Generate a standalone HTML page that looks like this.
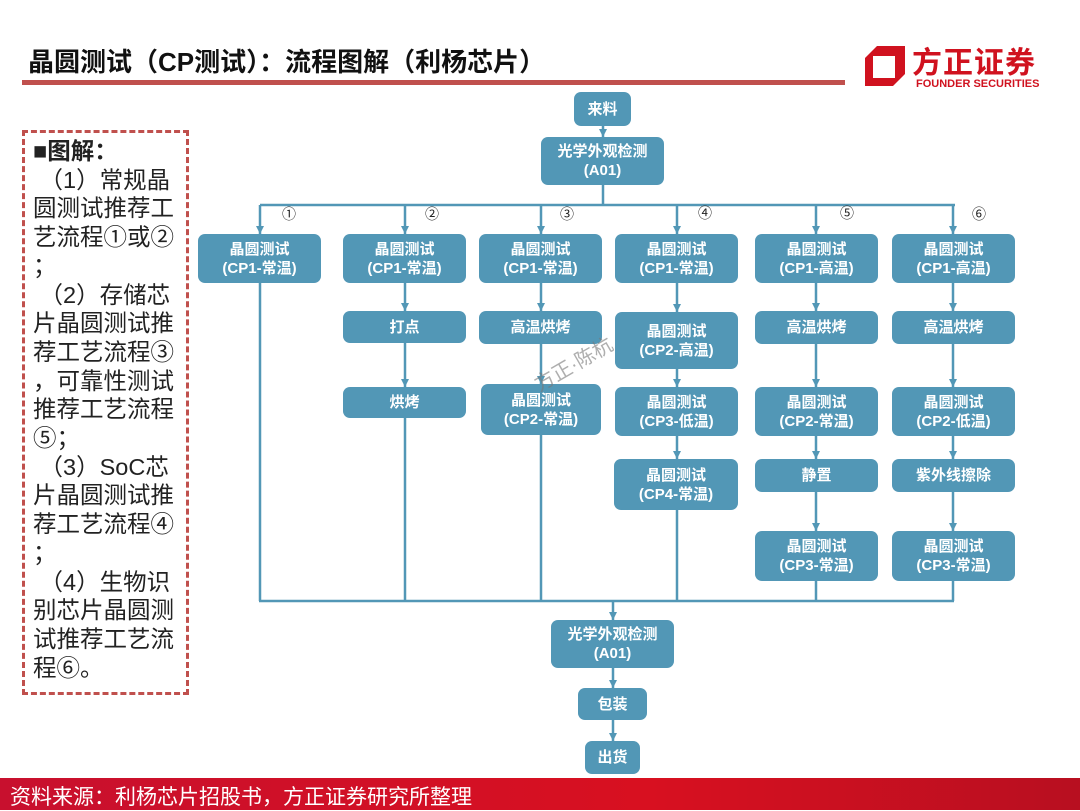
<!DOCTYPE html>
<html><head><meta charset="utf-8"><style>
body{margin:0;width:1080px;height:810px;position:relative;background:#fff;overflow:hidden;font-family:"Liberation Sans","Noto Sans CJK SC",sans-serif}
.b{position:absolute;background:#5297b6;color:#fff;border-radius:7px;display:flex;align-items:center;justify-content:center;text-align:center;font-weight:bold;font-size:15px;line-height:19px}
.n{position:absolute;font-size:14px;color:#222}
</style></head><body>
<div style="position:absolute;left:28px;top:42px;font-size:26px;font-weight:bold;color:#111;white-space:nowrap">晶圆测试（CP测试）：流程图解（利杨芯片）</div>
<div style="position:absolute;left:22px;top:80px;width:823px;height:5px;background:#c0504d"></div>
<svg style="position:absolute;left:863px;top:44px" width="44" height="44"><path d="M14 2 H42 V30 L30 42 H2 V14 Z M10 12 V34 H32 V12 Z" fill="#d0121f" fill-rule="evenodd"/></svg>
<div style="position:absolute;left:912px;top:38px;font-size:30px;font-weight:bold;color:#d0121f;letter-spacing:1px;white-space:nowrap">方正证券</div>
<div style="position:absolute;left:916px;top:78px;font-size:11px;font-weight:bold;color:#d0121f;white-space:nowrap">FOUNDER SECURITIES</div>

<div style="position:absolute;left:22px;top:130px;width:161px;height:559px;border:3px dashed #c0504d"></div>
<div style="position:absolute;left:33px;top:137px;width:160px;font-size:23.5px;line-height:28.7px;color:#222;white-space:nowrap"><b>■图解：</b><br>&nbsp;（1）常规晶<br>圆测试推荐工<br>艺流程①或②<br>；<br>&nbsp;（2）存储芯<br>片晶圆测试推<br>荐工艺流程③<br>，可靠性测试<br>推荐工艺流程<br>⑤；<br>&nbsp;（3）SoC芯<br>片晶圆测试推<br>荐工艺流程④<br>；<br>&nbsp;（4）生物识<br>别芯片晶圆测<br>试推荐工艺流<br>程⑥。</div>

<svg style="position:absolute;left:0;top:0" width="1080" height="810">
<defs><marker id="a" markerWidth="8" markerHeight="8" refX="8" refY="4" orient="auto" markerUnits="userSpaceOnUse"><path d="M0 0 L8 4 L0 8 Z" fill="#5297b6"/></marker></defs>
<g stroke="#5297b6" stroke-width="2.5" fill="none">
<line x1="603" y1="126" x2="603" y2="137" marker-end="url(#a)"/>
<line x1="603" y1="185" x2="603" y2="205"/>
<line x1="260" y1="205" x2="955" y2="205"/>
<line x1="260" y1="205" x2="260" y2="234" marker-end="url(#a)"/>
<line x1="405" y1="205" x2="405" y2="234" marker-end="url(#a)"/>
<line x1="541" y1="205" x2="541" y2="234" marker-end="url(#a)"/>
<line x1="677" y1="205" x2="677" y2="234" marker-end="url(#a)"/>
<line x1="816" y1="205" x2="816" y2="234" marker-end="url(#a)"/>
<line x1="953" y1="205" x2="953" y2="234" marker-end="url(#a)"/>
<line x1="260" y1="283" x2="260" y2="601"/>
<line x1="405" y1="283" x2="405" y2="311" marker-end="url(#a)"/>
<line x1="405" y1="343" x2="405" y2="387" marker-end="url(#a)"/>
<line x1="405" y1="418" x2="405" y2="601"/>
<line x1="541" y1="283" x2="541" y2="311" marker-end="url(#a)"/>
<line x1="541" y1="344" x2="541" y2="384" marker-end="url(#a)"/>
<line x1="541" y1="435" x2="541" y2="601"/>
<line x1="677" y1="283" x2="677" y2="312" marker-end="url(#a)"/>
<line x1="677" y1="369" x2="677" y2="387" marker-end="url(#a)"/>
<line x1="677" y1="436" x2="677" y2="459" marker-end="url(#a)"/>
<line x1="677" y1="510" x2="677" y2="601"/>
<line x1="816" y1="283" x2="816" y2="311" marker-end="url(#a)"/>
<line x1="816" y1="344" x2="816" y2="387" marker-end="url(#a)"/>
<line x1="816" y1="436" x2="816" y2="459" marker-end="url(#a)"/>
<line x1="816" y1="492" x2="816" y2="531" marker-end="url(#a)"/>
<line x1="816" y1="581" x2="816" y2="601"/>
<line x1="953" y1="283" x2="953" y2="311" marker-end="url(#a)"/>
<line x1="953" y1="344" x2="953" y2="387" marker-end="url(#a)"/>
<line x1="953" y1="436" x2="953" y2="459" marker-end="url(#a)"/>
<line x1="953" y1="492" x2="953" y2="531" marker-end="url(#a)"/>
<line x1="953" y1="581" x2="953" y2="601"/>
<line x1="259" y1="601" x2="954" y2="601"/>
<line x1="613" y1="601" x2="613" y2="620" marker-end="url(#a)"/>
<line x1="613" y1="668" x2="613" y2="688" marker-end="url(#a)"/>
<line x1="613" y1="720" x2="613" y2="741" marker-end="url(#a)"/>
</g></svg>

<div class="b" style="left:574px;top:92px;width:57px;height:34px">来料</div>
<div class="b" style="left:541px;top:137px;width:123px;height:48px">光学外观检测<br>(A01)</div>
<div class="n" style="left:282px;top:204px">①</div><div class="n" style="left:425px;top:204px">②</div><div class="n" style="left:560px;top:204px">③</div><div class="n" style="left:698px;top:203px">④</div><div class="n" style="left:840px;top:203px">⑤</div><div class="n" style="left:972px;top:204px">⑥</div>

<div class="b" style="left:198px;top:234px;width:123px;height:49px">晶圆测试<br>(CP1-常温)</div>
<div class="b" style="left:343px;top:234px;width:123px;height:49px">晶圆测试<br>(CP1-常温)</div>
<div class="b" style="left:479px;top:234px;width:123px;height:49px">晶圆测试<br>(CP1-常温)</div>
<div class="b" style="left:615px;top:234px;width:123px;height:49px">晶圆测试<br>(CP1-常温)</div>
<div class="b" style="left:755px;top:234px;width:123px;height:49px">晶圆测试<br>(CP1-高温)</div>
<div class="b" style="left:892px;top:234px;width:123px;height:49px">晶圆测试<br>(CP1-高温)</div>

<div class="b" style="left:343px;top:311px;width:123px;height:32px">打点</div>
<div class="b" style="left:343px;top:387px;width:123px;height:31px">烘烤</div>
<div class="b" style="left:479px;top:311px;width:123px;height:33px">高温烘烤</div>
<div class="b" style="left:481px;top:384px;width:120px;height:51px">晶圆测试<br>(CP2-常温)</div>
<div class="b" style="left:615px;top:312px;width:123px;height:57px">晶圆测试<br>(CP2-高温)</div>
<div class="b" style="left:615px;top:387px;width:123px;height:49px">晶圆测试<br>(CP3-低温)</div>
<div class="b" style="left:614px;top:459px;width:124px;height:51px">晶圆测试<br>(CP4-常温)</div>
<div class="b" style="left:755px;top:311px;width:123px;height:33px">高温烘烤</div>
<div class="b" style="left:755px;top:387px;width:123px;height:49px">晶圆测试<br>(CP2-常温)</div>
<div class="b" style="left:755px;top:459px;width:123px;height:33px">静置</div>
<div class="b" style="left:755px;top:531px;width:123px;height:50px">晶圆测试<br>(CP3-常温)</div>
<div class="b" style="left:892px;top:311px;width:123px;height:33px">高温烘烤</div>
<div class="b" style="left:892px;top:387px;width:123px;height:49px">晶圆测试<br>(CP2-低温)</div>
<div class="b" style="left:892px;top:459px;width:123px;height:33px">紫外线擦除</div>
<div class="b" style="left:892px;top:531px;width:123px;height:50px">晶圆测试<br>(CP3-常温)</div>

<div class="b" style="left:551px;top:620px;width:123px;height:48px">光学外观检测<br>(A01)</div>
<div class="b" style="left:578px;top:688px;width:69px;height:32px">包装</div>
<div class="b" style="left:585px;top:741px;width:55px;height:33px">出货</div>

<div style="position:absolute;left:528px;top:372px;font-size:20px;color:rgba(120,120,120,0.6);transform:rotate(-30deg);transform-origin:left top;white-space:nowrap">方正·陈杭</div>

<div style="position:absolute;left:0;top:778px;width:1080px;height:32px;background:linear-gradient(90deg,#c8102e,#d81020 60%,#b80f20)"></div>
<div style="position:absolute;left:10px;top:781px;font-size:21px;color:#fff;white-space:nowrap">资料来源：利杨芯片招股书，方正证券研究所整理</div>
</body></html>
